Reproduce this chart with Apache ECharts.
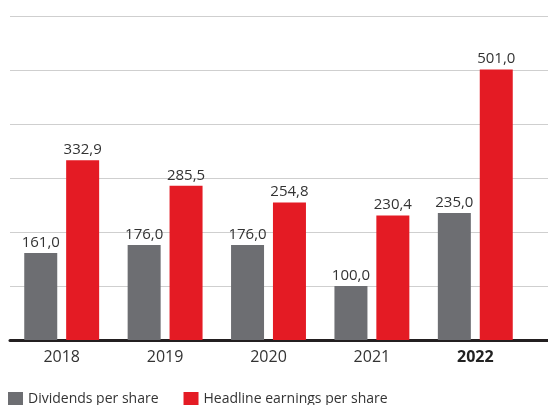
<!DOCTYPE html>
<html>
<head>
<meta charset="utf-8">
<script src="https://cdn.jsdelivr.net/npm/echarts@6/dist/echarts.min.js"></script>
<style>
  html, body { margin: 0; padding: 0; background: #fff; }
  #chart { width: 548px; height: 405px; }
</style>
</head>
<body>
<div id="chart"></div>
<script>
// Per-share figures by financial year
const years = ['2018', '2019', '2020', '2021', '2022'];
const dividends = [161.0, 176.0, 176.0, 100.0, 235.0];
const headlineEarnings = [332.9, 285.5, 254.8, 230.4, 501.0];
const seriesNames = ['Dividends per share', 'Headline earnings per share'];
const highlightYear = '2022';

const GRAY = '#6d6e72';
const RED = '#e41b24';
const TEXT = '#333';
const FONT = '"Open Sans", sans-serif';

const fmt = v => v.toFixed(1).replace('.', ',');

const chart = echarts.init(document.getElementById('chart'), null, { renderer: 'canvas' });

const valueLabel = {
  show: true, position: 'top', distance: 3,
  fontSize: 15, color: TEXT, fontFamily: FONT,
  formatter: p => fmt(p.value)
};

chart.setOption({
  animation: false,
  textStyle: { fontFamily: FONT },
  grid: [
    // full-width frame for gridlines and baseline
    { left: 10, right: 0, top: 16, bottom: 65 },
    // bar area
    { left: 10, width: 517, top: 16, bottom: 65 }
  ],
  legend: {
    left: 8,
    top: 392,
    padding: 0,
    itemWidth: 15,
    itemHeight: 14,
    itemGap: 25,
    icon: 'rect',
    textStyle: { fontSize: 14, color: TEXT, fontFamily: FONT },
    data: seriesNames
  },
  xAxis: [
    {
      gridIndex: 0, type: 'value', min: 0, max: 1,
      axisLine: { show: true, onZero: false, lineStyle: { color: '#231f20', width: 3 } },
      axisTick: { show: false }, axisLabel: { show: false }, splitLine: { show: false }
    },
    {
      gridIndex: 1, type: 'category', data: years,
      axisLine: { show: false }, axisTick: { show: false },
      axisLabel: {
        margin: 9,
        fontSize: 16,
        color: TEXT,
        formatter: v => v === highlightYear ? '{b|' + v + '}' : v,
        rich: { b: { fontWeight: 'bold', fontSize: 16, color: '#222', fontFamily: FONT } }
      }
    }
  ],
  yAxis: [
    {
      gridIndex: 0, type: 'value', min: 0, max: 600, interval: 100,
      axisLine: { show: false }, axisTick: { show: false }, axisLabel: { show: false },
      splitLine: { show: true, lineStyle: { color: '#cfcfcf', width: 1 } }
    },
    {
      gridIndex: 1, type: 'value', min: 0, max: 600, interval: 100,
      show: false, splitLine: { show: false }
    }
  ],
  series: [
    {
      name: seriesNames[0], type: 'bar', xAxisIndex: 1, yAxisIndex: 1,
      data: dividends, barWidth: 33, barGap: '27%',
      itemStyle: { color: GRAY },
      label: valueLabel
    },
    {
      name: seriesNames[1], type: 'bar', xAxisIndex: 1, yAxisIndex: 1,
      data: headlineEarnings, barWidth: 33, barGap: '27%',
      itemStyle: { color: RED },
      label: valueLabel
    }
  ]
});
</script>
</body>
</html>
